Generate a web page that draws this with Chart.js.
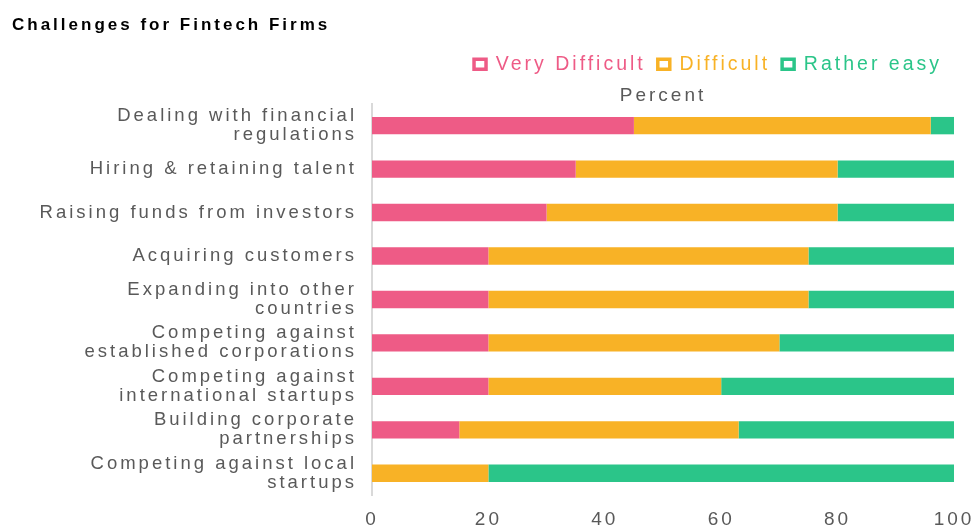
<!DOCTYPE html>
<html>
<head>
<meta charset="utf-8">
<script src="https://cdn.jsdelivr.net/npm/chart.js@4"></script>
<style>
  html, body { margin: 0; padding: 0; background: #fff; }
  #wrap { width: 974px; height: 529px; position: relative; }
</style>
</head>
<body>
<div id="wrap"><canvas id="fintechChart"></canvas></div>
<script>
// Datos
const categories = [
    ['Dealing with financial', 'regulations'],
    'Hiring & retaining talent',
    'Raising funds from investors',
    'Acquiring customers',
    ['Expanding into other', 'countries'],
    ['Competing against', 'established corporations'],
    ['Competing against', 'international startups'],
    ['Building corporate', 'partnerships'],
    ['Competing against local', 'startups']
];
const veryDifficult = [45, 35, 30, 20, 20, 20, 20, 15, 0];
const difficult = [51, 45, 50, 55, 55, 50, 40, 48, 20];
const ratherEasy = [4, 20, 20, 25, 25, 30, 40, 37, 80];
const xTicks = [0, 20, 40, 60, 80, 100];

const colors = ['#EE5B86', '#F8B226', '#2BC589'];
const FONT = 'Liberation Sans, Arial';

// espaciado de letras para imitar el texto ancho del original
const spacing = {
    id: 'spacing',
    beforeUpdate(chart) { chart.ctx.letterSpacing = '3px'; },
    beforeDraw(chart) { chart.ctx.letterSpacing = '3px'; }
};

const ctx = document.getElementById('fintechChart');

new Chart(ctx, {
    type: 'bar',
    data: {
        labels: categories,
        datasets: [
            { label: 'Very Difficult', data: veryDifficult, backgroundColor: colors[0] },
            { label: 'Difficult', data: difficult, backgroundColor: colors[1] },
            { label: 'Rather easy', data: ratherEasy, backgroundColor: colors[2] }
        ]
    },
    options: {
        indexAxis: 'y',
        responsive: true,
        maintainAspectRatio: false,
        animation: false,
        categoryPercentage: 0.8,
        barPercentage: 0.5,
        layout: { padding: { left: 12, right: 20, top: 0, bottom: 0 } },
        scales: {
            x: {
                stacked: true,
                min: 0,
                max: 100,
                afterBuildTicks: (s) => { s.ticks = xTicks.map(v => ({ value: v })); },
                afterFit: (s) => { s.height = 31; s.paddingRight = 0; s.paddingLeft = 0; },
                ticks: {
                    color: '#595959',
                    font: { family: FONT, size: 19 },
                    padding: 13
                },
                grid: { display: false, drawTicks: false },
                border: { display: false }
            },
            x2: {
                type: 'linear',
                position: 'top',
                min: 0,
                max: 100,
                afterFit: (s) => { s.height = 20; },
                ticks: { display: false },
                grid: { display: false, drawTicks: false },
                border: { display: false },
                title: {
                    display: true,
                    text: 'Percent',
                    color: '#595959',
                    font: { family: FONT, size: 19 },
                    padding: { top: 0, bottom: 0 }
                }
            },
            y: {
                stacked: true,
                afterFit: (s) => { s.width = 360; },
                ticks: {
                    color: '#595959',
                    font: { family: FONT, size: 18.5, lineHeight: '19px' },
                    padding: 15
                },
                grid: { display: false, drawTicks: false },
                border: { display: true, color: '#D9D9D9', width: 2 }
            }
        },
        plugins: {
            title: {
                display: true,
                text: 'Challenges for Fintech Firms',
                align: 'start',
                color: '#000',
                font: { family: FONT, size: 17, weight: 'bold' },
                padding: { top: 15, bottom: 7 }
            },
            legend: {
                display: true,
                position: 'top',
                align: 'end',
                labels: {
                    boxWidth: 12,
                    boxHeight: 10,
                    padding: 12,
                    font: { family: FONT, size: 19.5 },
                    generateLabels: function (chart) {
                        return chart.data.datasets.map((ds, i) => ({
                            text: ds.label,
                            fillStyle: '#fff',
                            strokeStyle: colors[i],
                            lineWidth: 3.5,
                            fontColor: colors[i],
                            datasetIndex: i,
                            hidden: false
                        }));
                    }
                }
            },
            tooltip: { enabled: false }
        }
    },
    plugins: [spacing]
});
</script>
</body>
</html>
